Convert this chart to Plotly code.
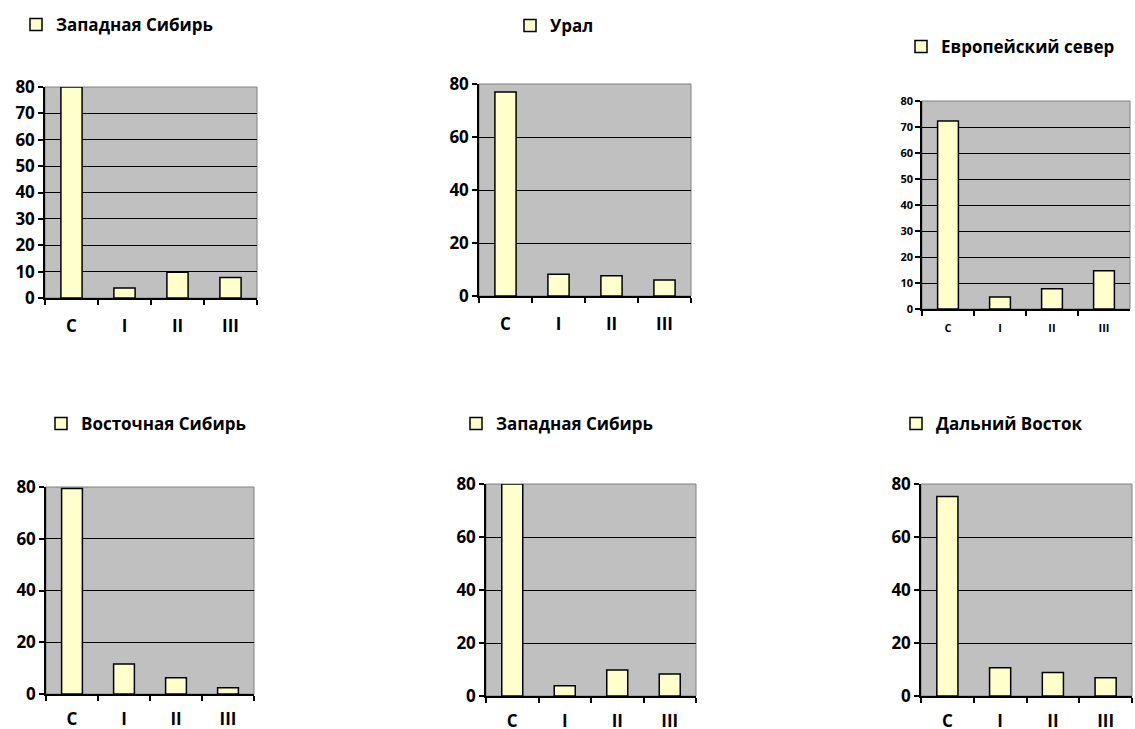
import plotly.graph_objects as go

W, H = 1135, 729

categories = ["C", "I", "II", "III"]

region_names = ["Западная Сибирь", "Урал", "Европейский север",
                "Восточная Сибирь", "Западная Сибирь", "Дальний Восток"]

west_siberia_a = [80, 3.8, 9.8, 7.8]
ural = [77, 8.2, 7.6, 6.0]
european_north = [72.3, 4.6, 7.8, 14.7]
east_siberia = [79.4, 11.6, 6.3, 2.4]
west_siberia_b = [80, 3.9, 9.8, 8.3]
far_east = [75.3, 10.7, 8.9, 6.9]

series = [west_siberia_a, ural, european_north, east_siberia, west_siberia_b, far_east]
y_dticks = [10, 20, 10, 20, 20, 20]

# plot-area boxes in pixels: (left, right, top, bottom)
boxes = [(45, 257, 87, 298), (479, 691, 84, 296), (922, 1130, 101, 309),
         (46, 254, 487, 694), (486, 696, 484, 696), (921, 1132, 484, 696)]
# legend symbol left edge (px) and vertical centre
legend_pos = [(33, 25), (527, 26), (918, 47), (58, 424), (473, 424), (913, 424)]
tick_sizes = [17, 17, 11, 17, 17, 17]
x_standoff = [12, 12, 8, 9, 9, 9]

FONT = "Open Sans"
fig = go.Figure()
layout = dict(
    width=W, height=H, margin=dict(l=0, r=0, t=0, b=0, autoexpand=False),
    paper_bgcolor="white", plot_bgcolor="#C0C0C0",
    font=dict(family=FONT, color="black"),
    bargap=0.6, shapes=[],
)

for i, (vals, name) in enumerate(zip(series, region_names)):
    k = "" if i == 0 else str(i + 1)
    lg = "legend" + k
    fig.add_trace(go.Bar(
        x=categories, y=vals, name=name,
        marker=dict(color="#FFFFCC", line=dict(color="black", width=1.5)),
        xaxis="x" + k, yaxis="y" + k, legend=lg, showlegend=True,
    ))
    l, r, t, b = boxes[i]
    ts = tick_sizes[i]
    layout["xaxis" + k] = dict(
        domain=[l / W, r / W], anchor="y" + k, type="category",
        showline=True, linecolor="black", linewidth=1.5,
        ticks="outside", tickson="boundaries", ticklen=5, tickcolor="black", tickwidth=1.5,
        tickfont=dict(size=ts, family=FONT, weight="bold"),
        ticklabelstandoff=x_standoff[i],
        showgrid=False, fixedrange=True, automargin=False,
    )
    layout["yaxis" + k] = dict(
        domain=[1 - b / H, 1 - t / H], anchor="x" + k,
        range=[0, 80], dtick=y_dticks[i], tick0=0,
        showline=True, linecolor="black", linewidth=1.5,
        ticks="outside", ticklen=5, tickcolor="black", tickwidth=1.5,
        tickfont=dict(size=ts, family=FONT, weight="bold"),
        showgrid=True, gridcolor="black", gridwidth=1.3,
        zeroline=False, fixedrange=True, automargin=False,
    )
    lx, ly = legend_pos[i]
    layout[lg] = dict(
        x=(lx - 17) / W, y=1 - ly / H, xanchor="left", yanchor="middle",
        xref="paper", yref="paper", bgcolor="rgba(0,0,0,0)",
        font=dict(size=17, family=FONT, weight="bold", color="black"),
    )
    layout["shapes"].append(dict(
        type="rect", xref="x" + k + " domain", yref="y" + k + " domain",
        x0=0, x1=1, y0=0, y1=1, line=dict(color="#808080", width=1), layer="below",
    ))

fig.update_layout(**layout)
fig.write_html(
    "out.html",
    config={"displayModeBar": False},
    post_script="document.body.style.margin='0';document.body.style.overflow='hidden';",
)
